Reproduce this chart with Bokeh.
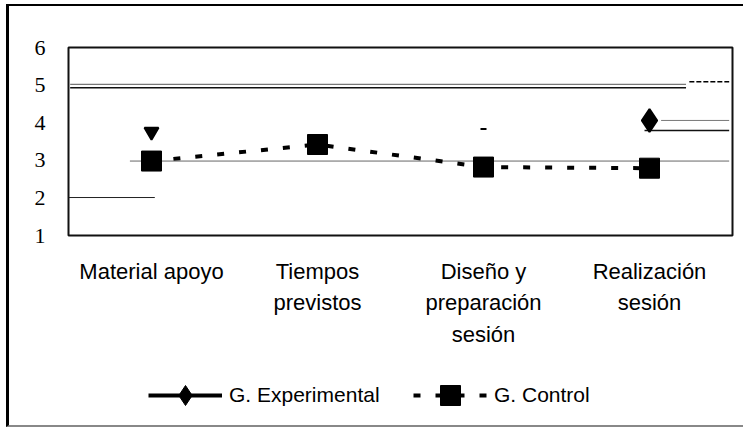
import math
from bokeh.plotting import figure
from bokeh.layouts import column
from bokeh.models import Range1d, FixedTicker, Legend, LegendItem, ColumnDataSource
from bokeh.embed import file_html
from bokeh.resources import INLINE

# ---- data ----
categories = ["Material apoyo", "Tiempos\nprevistos", "Diseño y\npreparación\nsesión", "Realización\nsesión"]
cat_pos = [0.5, 1.5, 2.5, 3.5]
control = [2.98, 3.42, 2.82, 2.79]
experimental = [3.76, float("nan"), 3.83, 4.06]
exp_markers = ["inverted_triangle", "diamond", "dash", "diamond"]
exp_sizes = [14, 0, 6, 23]
y_ticks = [1, 2, 3, 4, 5, 6]
series_names = ["G. Experimental", "G. Control"]

# stray horizontal rules visible in the scanned chart (level, from, to)
rule_y = [4.93, 5.02, 2.98, 2.01, 3.79, 4.06]
rule_x0 = [0.01, 0.01, 0.37, 0.0, 3.47, 3.57]
rule_x1 = [3.72, 3.72, 3.98, 0.52, 3.98, 3.98]
rule_color = ["#111111", "#777777", "#666666", "#222222", "#111111", "#777777"]
rule_width = [1.5, 1.2, 1, 1, 1.5, 1]
rule2_y = [5.09]
rule2_x0 = [3.74]
rule2_x1 = [3.98]

p = figure(width=734, height=345, x_range=Range1d(0, 4), y_range=Range1d(1, 6),
           output_backend="svg", toolbar_location=None,
           min_border_left=59, min_border_right=11, min_border_top=41, min_border_bottom=116)
p.grid.visible = False
p.outline_line_color = "#111111"
p.outline_line_width = 2
p.background_fill_color = "white"
p.border_fill_color = "white"

# y axis
p.yaxis.ticker = FixedTicker(ticks=y_ticks)
p.yaxis.axis_line_color = None
p.yaxis.major_tick_line_color = None
p.yaxis.minor_tick_line_color = None
p.yaxis.major_label_text_font = "Liberation Serif"
p.yaxis.major_label_text_font_size = "22px"
p.yaxis.major_label_text_color = "black"
p.yaxis.major_label_standoff = 17

# x axis
p.xaxis.ticker = FixedTicker(ticks=cat_pos)
p.xaxis.major_label_overrides = {x: c for x, c in zip(cat_pos, categories)}
p.xaxis.axis_line_color = None
p.xaxis.major_tick_line_color = None
p.xaxis.minor_tick_line_color = None
p.xaxis.major_label_text_font = "Liberation Sans"
p.xaxis.major_label_text_font_size = "22px"
p.xaxis.major_label_text_color = "black"
p.xaxis.major_label_text_line_height = 1.26
p.xaxis.major_label_standoff = 17

# stray rules
rules = ColumnDataSource(dict(y=rule_y, x0=rule_x0, x1=rule_x1, c=rule_color, w=rule_width))
p.segment(x0="x0", y0="y", x1="x1", y1="y", line_color="c", line_width="w", source=rules)
p.segment(x0=rule2_x0, y0=rule2_y, x1=rule2_x1, y1=rule2_y, line_color="black",
          line_width=1.5, line_dash="5 2")

# control series
p.line(cat_pos, control, line_color="black", line_width=4, line_dash="7 15")
p.scatter(cat_pos, control, marker="square", size=20, fill_color="black", line_color="black")

# experimental series
exp_src = ColumnDataSource(dict(x=cat_pos, y=experimental, m=exp_markers, s=exp_sizes))
p.scatter(x="x", y="y", marker="m", size="s", fill_color="black", line_color="black",
          line_width=2, source=exp_src)

# legend strip (series re-plotted outside its visible range, only to key the legend)
q = figure(width=734, height=74, x_range=Range1d(0, 4), y_range=Range1d(10, 11),
           output_backend="svg", toolbar_location=None,
           x_axis_location=None, y_axis_location=None,
           min_border_left=0, min_border_right=0, min_border_top=0, min_border_bottom=0)
q.grid.visible = False
q.outline_line_color = None
q.background_fill_color = "white"
q.border_fill_color = "white"
e_line = q.line(cat_pos, experimental, line_color="black", line_width=4)
e_pt = q.scatter(cat_pos, experimental, marker="diamond", size=23, fill_color="black", line_color="black")
c_line = q.line(cat_pos, control, line_color="black", line_width=4, line_dash="7 15")
c_pt = q.scatter(cat_pos, control, marker="square", size=20, fill_color="black", line_color="black")

legend = Legend(items=[
    LegendItem(label=series_names[0], renderers=[e_line, e_pt]),
    LegendItem(label=series_names[1], renderers=[c_line, c_pt]),
], orientation="horizontal", location=(80, 5))
legend.border_line_color = None
legend.background_fill_alpha = 0
legend.padding = 0
legend.margin = 0
legend.glyph_width = 74
legend.glyph_height = 50
legend.label_height = 50
legend.label_width = 158
legend.label_standoff = 7
legend.spacing = 26
legend.label_text_font = "Liberation Sans"
legend.label_text_font_size = "21px"
legend.label_text_color = "black"
q.add_layout(legend, "center")

layout = column(p, q, spacing=0,
                styles={"border-left": "3px solid black", "border-top": "2px solid black",
                        "border-bottom": "2px solid #888888", "margin-left": "6px",
                        "margin-top": "4px"})

open("out.html", "w").write(file_html(layout, INLINE))
